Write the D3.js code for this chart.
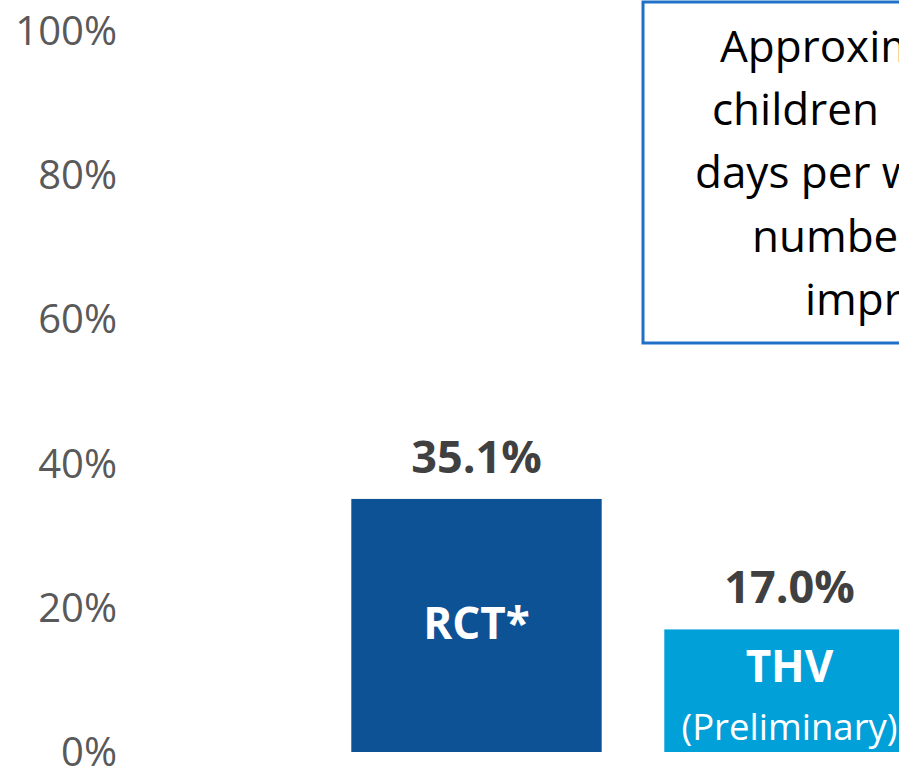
<!DOCTYPE html>
<html lang="en">
<head>
	<meta charset="UTF-8">
	<title>RCT vs THV</title>
	<script src="https://cdn.jsdelivr.net/npm/d3@7/dist/d3.min.js"></script>
	<style>
		body { margin: 0; overflow: hidden; background: #fff; }
		text { font-family: "Open Sans", sans-serif; }
	</style>
</head>
<body>
	<div id="container"></div>
	<script>
		// data
		var categories = ["RCT*", "THV"];
		var values = [35.1, 17.0];
		var subLabels = ["", "(Preliminary)"];
		var barColors = ["#0E5296", "#02A0D8"];
		var yTicks = [0, 20, 40, 60, 80, 100];
		var noteLines = ["Approximately", "children", "days per week", "number", "improved"];
		var noteIndent = [720, 712, 695, 752, 805];

		var width = 1000, height = 768;
		var svg = d3.select("#container").append("svg")
				.attr("width", width)
				.attr("height", height);

		var y = d3.scaleLinear()
				.domain([0, 100])
				.range([752, 31]);

		var x = d3.scaleBand()
				.domain(categories)
				.range([320, 946])
				.paddingInner(0.2)
				.paddingOuter(0.1);

		// y axis labels (no line, no ticks)
		svg.selectAll(".ylab").data(yTicks)
			.enter().append("text")
				.attr("class", "ylab")
				.attr("x", 117)
				.attr("y", d => y(d) + 14)
				.attr("text-anchor", "end")
				.attr("font-size", 40)
				.attr("fill", "#595959")
				.text(d => d + "%");

		// bars
		svg.selectAll(".bar").data(values)
			.enter().append("rect")
				.attr("class", "bar")
				.attr("x", (d, i) => x(categories[i]))
				.attr("y", d => y(d))
				.attr("width", x.bandwidth())
				.attr("height", d => y(0) - y(d))
				.attr("fill", (d, i) => barColors[i]);

		// value labels
		svg.selectAll(".val").data(values)
			.enter().append("text")
				.attr("class", "val")
				.attr("x", (d, i) => x(categories[i]) + x.bandwidth() / 2)
				.attr("y", d => y(d) - 26)
				.attr("text-anchor", "middle")
				.attr("font-size", 45)
				.attr("font-weight", "bold")
				.attr("fill", "#404040")
				.text(d => d.toFixed(1) + "%");

		// category names inside bars
		svg.selectAll(".cat").data(categories)
			.enter().append("text")
				.attr("class", "cat")
				.attr("x", d => x(d) + x.bandwidth() / 2)
				.attr("y", (d, i) => subLabels[i] ? y(values[i]) + 53 : (y(values[i]) + y(0)) / 2 + 14)
				.attr("text-anchor", "middle")
				.attr("font-size", 44)
				.attr("font-weight", "bold")
				.attr("fill", "#fff")
				.text(d => d);

		svg.selectAll(".sub").data(categories)
			.enter().append("text")
				.attr("class", "sub")
				.attr("x", d => x(d) + x.bandwidth() / 2)
				.attr("y", (d, i) => y(values[i]) + 111)
				.attr("text-anchor", "middle")
				.attr("font-size", 36.5)
				.attr("fill", "#fff")
				.text((d, i) => subLabels[i]);

		// note box (cut off at the right edge)
		svg.append("rect")
				.attr("x", 643)
				.attr("y", 2)
				.attr("width", 340)
				.attr("height", 341)
				.attr("fill", "#fff")
				.attr("stroke", "#1F70C6")
				.attr("stroke-width", 3);

		svg.selectAll(".note").data(noteLines)
			.enter().append("text")
				.attr("class", "note")
				.attr("x", (d, i) => noteIndent[i])
				.attr("y", (d, i) => 62 + i * 63.2)
				.attr("font-size", 44)
				.attr("fill", "#000")
				.text(d => d);
	</script>
</body>
</html>
